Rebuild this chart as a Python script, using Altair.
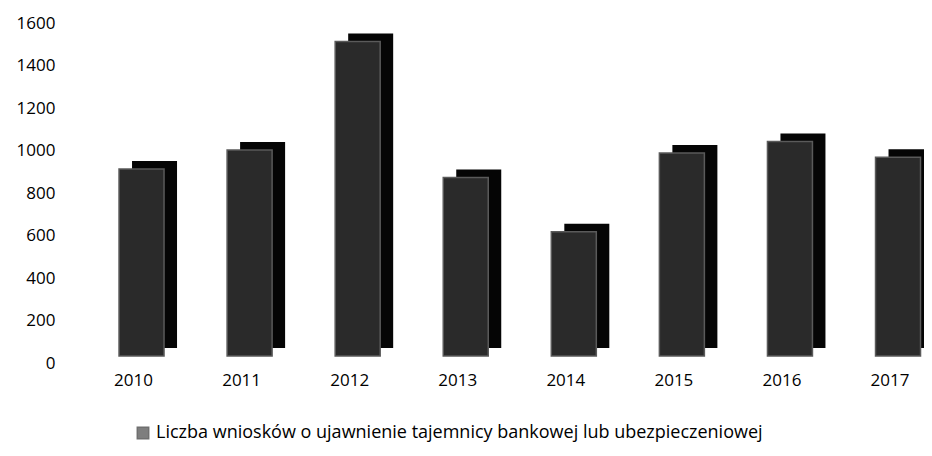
import altair as alt
import pandas as pd

years = ["2010", "2011", "2012", "2013", "2014", "2015", "2016", "2017"]
values = [880, 970, 1480, 840, 585, 955, 1010, 935]
series = "Liczba wniosków o ujawnienie tajemnicy bankowej lub ubezpieczeniowej"
y_ticks = [0, 200, 400, 600, 800, 1000, 1200, 1400, 1600]

df = pd.DataFrame({"rok": years, "wartosc": values, "seria": [series] * len(years)})

FONT = "Open Sans"
step = 108.07
start = 23.5

x_enc = alt.X(
    "rok:O",
    sort=years,
    scale=alt.Scale(range=[start, start + 8 * step], paddingInner=0, paddingOuter=0),
    axis=alt.Axis(
        title=None, labelAngle=0, domain=False, ticks=False, labelPadding=9,
        labelOffset=-8, labelFont=FONT, labelFontSize=17, labelColor="#000",
    ),
)
y_enc = alt.Y(
    "wartosc:Q",
    scale=alt.Scale(domain=[0, 1600], nice=False),
    axis=alt.Axis(
        title=None, values=y_ticks, format="d", grid=False, domain=False, ticks=False,
        labelPadding=9, labelFont=FONT, labelFontSize=17, labelColor="#000",
    ),
)

base = alt.Chart(df)

back = base.mark_bar(
    size=45, color="#050505", xOffset=13, x2Offset=13, yOffset=-15, y2Offset=-15
).encode(x=x_enc, y=y_enc)

front = base.mark_bar(
    size=45, yOffset=-7, y2Offset=-7, stroke="#5a5a5a", strokeWidth=1.5
).encode(
    x=x_enc,
    y=y_enc,
    color=alt.Color(
        "seria:N",
        scale=alt.Scale(range=["#2a2a2a"]),
        legend=alt.Legend(
            title=None, orient="none", legendX=70, legendY=401,
            labelFont=FONT, labelFontSize=18, labelColor="#000", labelLimit=1000,
            symbolType="square", symbolSize=130, symbolStrokeColor="#111",
            symbolStrokeWidth=1.5, symbolOpacity=0.6, padding=0,
        ),
    ),
)

chart = (
    alt.layer(back, front)
    .properties(
        width=860, height=340,
        autosize=alt.AutoSizeParams(type="none"),
        padding={"left": 56, "top": 15, "right": 0, "bottom": 80},
        background="white",
    )
    .configure_view(stroke=None)
)

chart.save("out.html", embed_options={"renderer": "svg", "actions": False})
